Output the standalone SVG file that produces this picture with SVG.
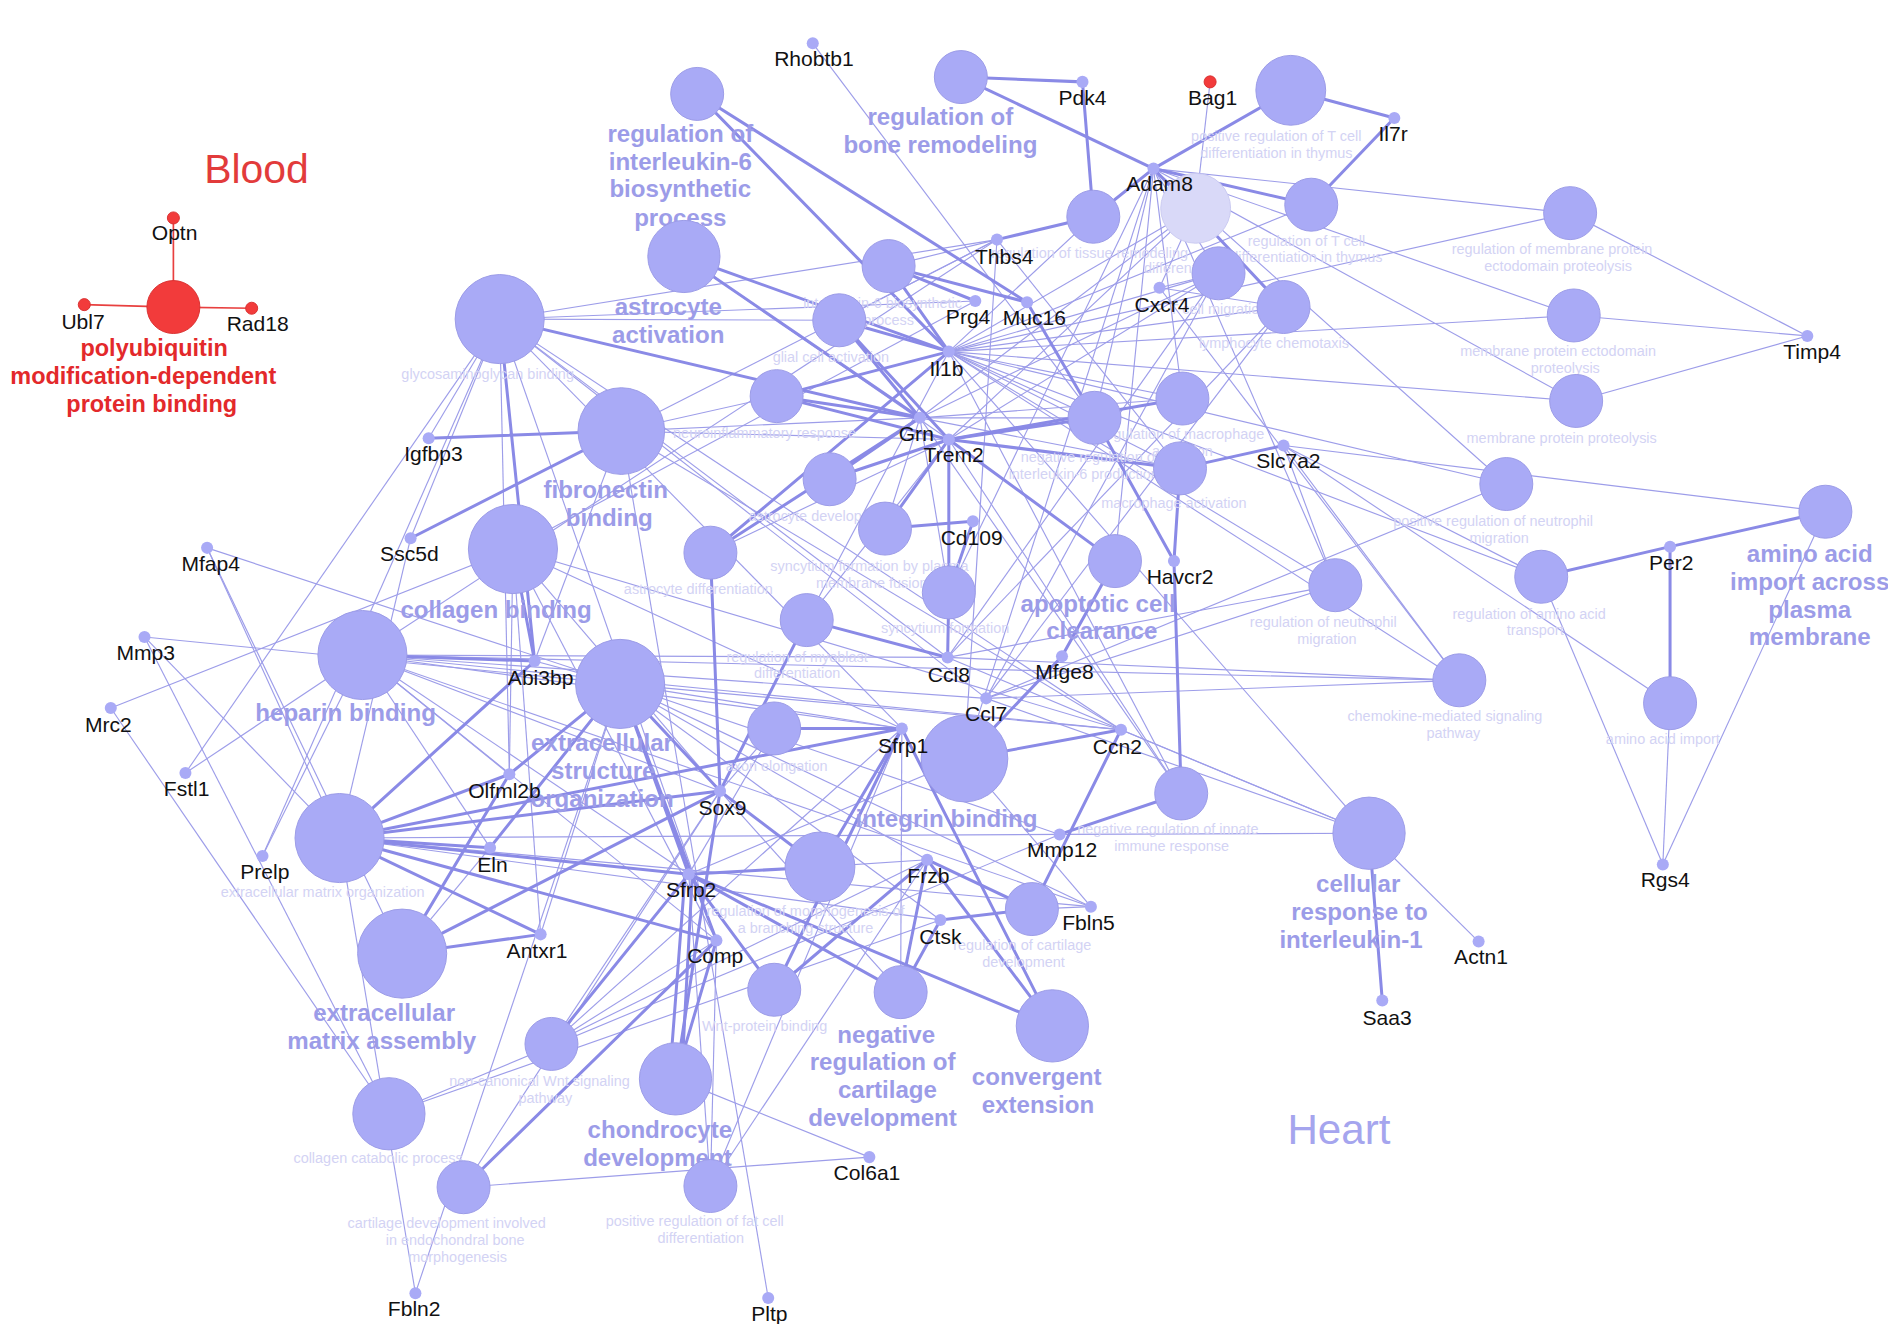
<svg xmlns="http://www.w3.org/2000/svg" width="1888" height="1324" viewBox="0 0 1888 1324">
<style>
.k{stroke:#8a8ae6;stroke-width:2.5;fill:none;stroke-linecap:round}
.t{stroke:#9d9de9;stroke-width:0.95;fill:none}
.r{stroke:#e8403f;stroke-width:1.4}
.tn{fill:#a9aaf6;stroke:#9a9ae6;stroke-width:0.8}
.fd{fill:#d9d9f8;stroke:#cacaf0;stroke-width:0.8}
.gn{fill:#a9aaf6}
.rn{fill:#f23b3b;stroke:#d83030;stroke-width:0.8}
text{font-family:"Liberation Sans",Arial,Helvetica,sans-serif;text-anchor:middle}
.gl{font-size:17.5px;fill:#111}
.bl{font-size:20px;font-weight:bold;fill:#9c9ce8}
.fl{font-size:12px;fill:#d3d3f4}
.rl{font-size:19.5px;font-weight:bold;fill:#e3292b}
</style>
<rect width="1888" height="1324" fill="#ffffff"/>
<g transform="scale(1.204082)">
<text x="213" y="152" style="font-size:34px;fill:#e23b3b">Blood</text>
<text x="1112" y="950" style="font-size:35px;fill:#a5a5ee">Heart</text>
<g id="connectors">
<line class="r" x1="144" y1="181" x2="144" y2="255"/>
<line class="r" x1="70" y1="253" x2="144" y2="255"/>
<line class="r" x1="209" y1="256" x2="144" y2="255"/>
<line class="t" x1="1005" y1="68" x2="993" y2="173"/>
<line class="t" x1="675" y1="36" x2="909" y2="347"/>
<line class="t" x1="788" y1="292" x2="908" y2="180"/>
<line class="t" x1="788" y1="292" x2="993" y2="173"/>
<line class="t" x1="788" y1="292" x2="1012" y2="227"/>
<line class="t" x1="788" y1="292" x2="1066" y2="255"/>
<line class="t" x1="788" y1="292" x2="1304" y2="177"/>
<line class="t" x1="788" y1="292" x2="1307" y2="262"/>
<line class="t" x1="788" y1="292" x2="1309" y2="333"/>
<line class="t" x1="788" y1="292" x2="1251" y2="402"/>
<line class="t" x1="788" y1="292" x2="1109" y2="486"/>
<line class="t" x1="788" y1="292" x2="1280" y2="479"/>
<line class="t" x1="788" y1="292" x2="1212" y2="565"/>
<line class="t" x1="788" y1="292" x2="1137" y2="692"/>
<line class="t" x1="788" y1="292" x2="982" y2="331"/>
<line class="t" x1="788" y1="292" x2="909" y2="347"/>
<line class="t" x1="788" y1="292" x2="980" y2="389"/>
<line class="t" x1="788" y1="292" x2="981" y2="659"/>
<line class="t" x1="788" y1="292" x2="1089" y2="170"/>
<line class="t" x1="788" y1="292" x2="670" y2="515"/>
<line class="t" x1="958" y1="140" x2="993" y2="173"/>
<line class="t" x1="958" y1="140" x2="1012" y2="227"/>
<line class="t" x1="958" y1="140" x2="1304" y2="177"/>
<line class="t" x1="958" y1="140" x2="1307" y2="262"/>
<line class="t" x1="958" y1="140" x2="1309" y2="333"/>
<line class="t" x1="958" y1="140" x2="1251" y2="402"/>
<line class="t" x1="958" y1="140" x2="1109" y2="486"/>
<line class="t" x1="958" y1="140" x2="982" y2="331"/>
<line class="t" x1="958" y1="140" x2="909" y2="347"/>
<line class="t" x1="958" y1="140" x2="801" y2="630"/>
<line class="t" x1="958" y1="140" x2="788" y2="492"/>
<line class="t" x1="958" y1="140" x2="926" y2="466"/>
<line class="t" x1="764" y1="347" x2="982" y2="331"/>
<line class="t" x1="764" y1="347" x2="1012" y2="227"/>
<line class="t" x1="764" y1="347" x2="993" y2="173"/>
<line class="t" x1="764" y1="347" x2="788" y2="492"/>
<line class="t" x1="764" y1="347" x2="735" y2="439"/>
<line class="t" x1="764" y1="347" x2="980" y2="389"/>
<line class="t" x1="764" y1="347" x2="516" y2="358"/>
<line class="t" x1="764" y1="347" x2="909" y2="347"/>
<line class="t" x1="764" y1="347" x2="981" y2="659"/>
<line class="t" x1="788" y1="365" x2="1012" y2="227"/>
<line class="t" x1="788" y1="365" x2="993" y2="173"/>
<line class="t" x1="788" y1="365" x2="568" y2="213"/>
<line class="t" x1="788" y1="365" x2="590" y2="459"/>
<line class="t" x1="788" y1="365" x2="516" y2="358"/>
<line class="t" x1="788" y1="365" x2="670" y2="515"/>
<line class="t" x1="788" y1="365" x2="981" y2="659"/>
<line class="t" x1="963" y1="239" x2="993" y2="173"/>
<line class="t" x1="963" y1="239" x2="1012" y2="227"/>
<line class="t" x1="963" y1="239" x2="1066" y2="255"/>
<line class="t" x1="963" y1="239" x2="1212" y2="565"/>
<line class="t" x1="819" y1="580" x2="1012" y2="227"/>
<line class="t" x1="819" y1="580" x2="1066" y2="255"/>
<line class="t" x1="819" y1="580" x2="1212" y2="565"/>
<line class="t" x1="819" y1="580" x2="1251" y2="402"/>
<line class="t" x1="819" y1="580" x2="1109" y2="486"/>
<line class="t" x1="819" y1="580" x2="1137" y2="692"/>
<line class="t" x1="819" y1="580" x2="301" y2="544"/>
<line class="t" x1="787" y1="546" x2="1012" y2="227"/>
<line class="t" x1="787" y1="546" x2="1066" y2="255"/>
<line class="t" x1="787" y1="546" x2="1212" y2="565"/>
<line class="t" x1="787" y1="546" x2="1137" y2="692"/>
<line class="t" x1="787" y1="546" x2="301" y2="544"/>
<line class="t" x1="787" y1="546" x2="1109" y2="486"/>
<line class="t" x1="828" y1="199" x2="738" y2="221"/>
<line class="t" x1="828" y1="199" x2="697" y2="266"/>
<line class="t" x1="828" y1="199" x2="801" y2="630"/>
<line class="t" x1="828" y1="199" x2="980" y2="389"/>
<line class="t" x1="828" y1="199" x2="301" y2="544"/>
<line class="t" x1="828" y1="199" x2="415" y2="265"/>
<line class="t" x1="828" y1="199" x2="516" y2="358"/>
<line class="t" x1="810" y1="250" x2="415" y2="265"/>
<line class="t" x1="810" y1="250" x2="426" y2="456"/>
<line class="t" x1="1066" y1="370" x2="1109" y2="486"/>
<line class="t" x1="1066" y1="370" x2="1280" y2="479"/>
<line class="t" x1="1066" y1="370" x2="1387" y2="584"/>
<line class="t" x1="1066" y1="370" x2="1516" y2="425"/>
<line class="t" x1="1066" y1="370" x2="1212" y2="565"/>
<line class="t" x1="1501" y1="279" x2="1304" y2="177"/>
<line class="t" x1="1501" y1="279" x2="1307" y2="262"/>
<line class="t" x1="1501" y1="279" x2="1309" y2="333"/>
<line class="t" x1="1381" y1="718" x2="1280" y2="479"/>
<line class="t" x1="1381" y1="718" x2="1387" y2="584"/>
<line class="t" x1="1381" y1="718" x2="1516" y2="425"/>
<line class="t" x1="1228" y1="782" x2="1137" y2="692"/>
<line class="t" x1="880" y1="693" x2="1137" y2="692"/>
<line class="t" x1="880" y1="693" x2="323" y2="925"/>
<line class="t" x1="880" y1="693" x2="282" y2="696"/>
<line class="t" x1="931" y1="606" x2="301" y2="544"/>
<line class="t" x1="931" y1="606" x2="515" y2="568"/>
<line class="t" x1="931" y1="606" x2="1137" y2="692"/>
<line class="t" x1="931" y1="606" x2="426" y2="456"/>
<line class="t" x1="931" y1="606" x2="516" y2="358"/>
<line class="t" x1="906" y1="753" x2="801" y2="630"/>
<line class="t" x1="906" y1="753" x2="857" y2="755"/>
<line class="t" x1="906" y1="753" x2="515" y2="568"/>
<line class="t" x1="906" y1="753" x2="282" y2="696"/>
<line class="t" x1="906" y1="753" x2="301" y2="544"/>
<line class="t" x1="781" y1="764" x2="282" y2="696"/>
<line class="t" x1="781" y1="764" x2="323" y2="925"/>
<line class="t" x1="770" y1="714" x2="458" y2="867"/>
<line class="t" x1="770" y1="714" x2="590" y2="985"/>
<line class="t" x1="770" y1="714" x2="681" y2="720"/>
<line class="t" x1="770" y1="714" x2="515" y2="568"/>
<line class="t" x1="749" y1="605" x2="301" y2="544"/>
<line class="t" x1="749" y1="605" x2="458" y2="867"/>
<line class="t" x1="749" y1="605" x2="590" y2="985"/>
<line class="t" x1="749" y1="605" x2="748" y2="824"/>
<line class="t" x1="749" y1="605" x2="515" y2="568"/>
<line class="t" x1="598" y1="657" x2="643" y2="605"/>
<line class="t" x1="598" y1="657" x2="385" y2="986"/>
<line class="t" x1="598" y1="657" x2="748" y2="824"/>
<line class="t" x1="598" y1="657" x2="301" y2="544"/>
<line class="t" x1="598" y1="657" x2="458" y2="867"/>
<line class="t" x1="572" y1="726" x2="590" y2="985"/>
<line class="t" x1="572" y1="726" x2="643" y2="605"/>
<line class="t" x1="572" y1="726" x2="301" y2="544"/>
<line class="t" x1="595" y1="781" x2="590" y2="985"/>
<line class="t" x1="595" y1="781" x2="426" y2="456"/>
<line class="t" x1="595" y1="781" x2="301" y2="544"/>
<line class="t" x1="595" y1="781" x2="458" y2="867"/>
<line class="t" x1="449" y1="776" x2="515" y2="568"/>
<line class="t" x1="449" y1="776" x2="426" y2="456"/>
<line class="t" x1="407" y1="704" x2="301" y2="544"/>
<line class="t" x1="407" y1="704" x2="334" y2="792"/>
<line class="t" x1="423" y1="643" x2="301" y2="544"/>
<line class="t" x1="423" y1="643" x2="426" y2="456"/>
<line class="t" x1="444" y1="549" x2="515" y2="568"/>
<line class="t" x1="444" y1="549" x2="516" y2="358"/>
<line class="t" x1="356" y1="364" x2="415" y2="265"/>
<line class="t" x1="341" y1="447" x2="415" y2="265"/>
<line class="t" x1="341" y1="447" x2="282" y2="696"/>
<line class="t" x1="172" y1="455" x2="515" y2="568"/>
<line class="t" x1="172" y1="455" x2="282" y2="696"/>
<line class="t" x1="172" y1="455" x2="334" y2="792"/>
<line class="t" x1="120" y1="529" x2="515" y2="568"/>
<line class="t" x1="120" y1="529" x2="282" y2="696"/>
<line class="t" x1="120" y1="529" x2="323" y2="925"/>
<line class="t" x1="92" y1="588" x2="426" y2="456"/>
<line class="t" x1="92" y1="588" x2="323" y2="925"/>
<line class="t" x1="154" y1="642" x2="415" y2="265"/>
<line class="t" x1="154" y1="642" x2="301" y2="544"/>
<line class="t" x1="218" y1="711" x2="415" y2="265"/>
<line class="t" x1="218" y1="711" x2="301" y2="544"/>
<line class="t" x1="345" y1="1074" x2="282" y2="696"/>
<line class="t" x1="345" y1="1074" x2="515" y2="568"/>
<line class="t" x1="722" y1="961" x2="561" y2="896"/>
<line class="t" x1="722" y1="961" x2="385" y2="986"/>
<line class="t" x1="638" y1="1078" x2="516" y2="358"/>
<line class="t" x1="415" y1="265" x2="819" y2="580"/>
<line class="t" x1="415" y1="265" x2="787" y2="546"/>
<line class="t" x1="415" y1="265" x2="931" y2="606"/>
<line class="t" x1="415" y1="265" x2="749" y2="605"/>
<line class="t" x1="415" y1="265" x2="595" y2="781"/>
<line class="t" x1="415" y1="265" x2="423" y2="643"/>
<line class="t" x1="415" y1="265" x2="697" y2="266"/>
<line class="t" x1="516" y1="358" x2="645" y2="329"/>
<line class="t" x1="301" y1="544" x2="1212" y2="565"/>
<line class="t" x1="515" y1="568" x2="880" y2="693"/>
<line class="t" x1="515" y1="568" x2="781" y2="764"/>
<line class="t" x1="426" y1="456" x2="749" y2="605"/>
<line class="t" x1="426" y1="456" x2="598" y2="657"/>
<line class="t" x1="801" y1="630" x2="572" y2="726"/>
<line class="k" x1="579" y1="78" x2="788" y2="292"/>
<line class="k" x1="579" y1="78" x2="853" y2="251"/>
<line class="k" x1="798" y1="64" x2="899" y2="68"/>
<line class="k" x1="798" y1="64" x2="958" y2="140"/>
<line class="k" x1="899" y1="68" x2="908" y2="180"/>
<line class="k" x1="908" y1="180" x2="958" y2="140"/>
<line class="k" x1="1072" y1="75" x2="958" y2="140"/>
<line class="k" x1="1072" y1="75" x2="1158" y2="98"/>
<line class="k" x1="1089" y1="170" x2="1158" y2="98"/>
<line class="k" x1="1089" y1="170" x2="958" y2="140"/>
<line class="k" x1="1066" y1="255" x2="958" y2="140"/>
<line class="k" x1="908" y1="180" x2="828" y2="199"/>
<line class="k" x1="738" y1="221" x2="853" y2="251"/>
<line class="k" x1="738" y1="221" x2="810" y2="250"/>
<line class="k" x1="738" y1="221" x2="788" y2="292"/>
<line class="k" x1="697" y1="266" x2="788" y2="292"/>
<line class="k" x1="697" y1="266" x2="764" y2="347"/>
<line class="k" x1="697" y1="266" x2="788" y2="365"/>
<line class="k" x1="645" y1="329" x2="788" y2="292"/>
<line class="k" x1="645" y1="329" x2="764" y2="347"/>
<line class="k" x1="645" y1="329" x2="788" y2="365"/>
<line class="k" x1="568" y1="213" x2="788" y2="292"/>
<line class="k" x1="568" y1="213" x2="764" y2="347"/>
<line class="k" x1="415" y1="265" x2="764" y2="347"/>
<line class="k" x1="415" y1="265" x2="444" y2="549"/>
<line class="k" x1="356" y1="364" x2="516" y2="358"/>
<line class="k" x1="341" y1="447" x2="516" y2="358"/>
<line class="k" x1="689" y1="398" x2="764" y2="347"/>
<line class="k" x1="689" y1="398" x2="788" y2="365"/>
<line class="k" x1="590" y1="459" x2="788" y2="292"/>
<line class="k" x1="590" y1="459" x2="764" y2="347"/>
<line class="k" x1="590" y1="459" x2="598" y2="657"/>
<line class="k" x1="735" y1="439" x2="788" y2="365"/>
<line class="k" x1="735" y1="439" x2="808" y2="433"/>
<line class="k" x1="788" y1="492" x2="788" y2="365"/>
<line class="k" x1="788" y1="492" x2="808" y2="433"/>
<line class="k" x1="788" y1="492" x2="787" y2="546"/>
<line class="k" x1="670" y1="515" x2="787" y2="546"/>
<line class="k" x1="670" y1="515" x2="598" y2="657"/>
<line class="k" x1="926" y1="466" x2="788" y2="365"/>
<line class="k" x1="926" y1="466" x2="882" y2="545"/>
<line class="k" x1="801" y1="630" x2="882" y2="545"/>
<line class="k" x1="909" y1="347" x2="975" y2="466"/>
<line class="k" x1="980" y1="389" x2="975" y2="466"/>
<line class="k" x1="981" y1="659" x2="975" y2="466"/>
<line class="k" x1="980" y1="389" x2="1066" y2="370"/>
<line class="k" x1="980" y1="389" x2="788" y2="365"/>
<line class="k" x1="909" y1="347" x2="788" y2="365"/>
<line class="k" x1="982" y1="331" x2="788" y2="365"/>
<line class="k" x1="909" y1="347" x2="853" y2="251"/>
<line class="k" x1="1280" y1="479" x2="1387" y2="454"/>
<line class="k" x1="1516" y1="425" x2="1387" y2="454"/>
<line class="k" x1="1387" y1="584" x2="1387" y2="454"/>
<line class="k" x1="1137" y1="692" x2="1148" y2="831"/>
<line class="k" x1="981" y1="659" x2="880" y2="693"/>
<line class="k" x1="857" y1="755" x2="931" y2="606"/>
<line class="k" x1="801" y1="630" x2="931" y2="606"/>
<line class="k" x1="643" y1="605" x2="749" y2="605"/>
<line class="k" x1="874" y1="852" x2="572" y2="726"/>
<line class="k" x1="874" y1="852" x2="749" y2="605"/>
<line class="k" x1="874" y1="852" x2="770" y2="714"/>
<line class="k" x1="857" y1="755" x2="770" y2="714"/>
<line class="k" x1="857" y1="755" x2="781" y2="764"/>
<line class="k" x1="748" y1="824" x2="781" y2="764"/>
<line class="k" x1="748" y1="824" x2="770" y2="714"/>
<line class="k" x1="748" y1="824" x2="572" y2="726"/>
<line class="k" x1="282" y1="696" x2="444" y2="549"/>
<line class="k" x1="282" y1="696" x2="423" y2="643"/>
<line class="k" x1="282" y1="696" x2="749" y2="605"/>
<line class="k" x1="282" y1="696" x2="598" y2="657"/>
<line class="k" x1="282" y1="696" x2="407" y2="704"/>
<line class="k" x1="282" y1="696" x2="572" y2="726"/>
<line class="k" x1="282" y1="696" x2="595" y2="781"/>
<line class="k" x1="282" y1="696" x2="449" y2="776"/>
<line class="k" x1="334" y1="792" x2="598" y2="657"/>
<line class="k" x1="334" y1="792" x2="449" y2="776"/>
<line class="k" x1="334" y1="792" x2="423" y2="643"/>
<line class="k" x1="458" y1="867" x2="572" y2="726"/>
<line class="k" x1="556" y1="896" x2="569" y2="726"/>
<line class="k" x1="566" y1="896" x2="575" y2="726"/>
<line class="k" x1="561" y1="896" x2="598" y2="657"/>
<line class="k" x1="561" y1="896" x2="595" y2="781"/>
<line class="k" x1="385" y1="986" x2="595" y2="781"/>
<line class="k" x1="643" y1="822" x2="572" y2="726"/>
<line class="k" x1="643" y1="822" x2="749" y2="605"/>
<line class="k" x1="643" y1="822" x2="770" y2="714"/>
<line class="k" x1="681" y1="720" x2="598" y2="657"/>
<line class="k" x1="681" y1="720" x2="749" y2="605"/>
<line class="k" x1="681" y1="720" x2="572" y2="726"/>
<line class="k" x1="515" y1="568" x2="598" y2="657"/>
<line class="k" x1="515" y1="568" x2="572" y2="726"/>
<line class="k" x1="515" y1="568" x2="595" y2="781"/>
<line class="k" x1="515" y1="568" x2="423" y2="643"/>
<line class="k" x1="515" y1="568" x2="407" y2="704"/>
<line class="k" x1="301" y1="544" x2="444" y2="549"/>
<line class="k" x1="426" y1="456" x2="444" y2="549"/>
</g>
<g id="n-polyubiquitin"><text class="rl" x="128" y="296">polyubiquitin</text><text class="rl" x="119" y="319">modification-dependent</text><text class="rl" x="126" y="342">protein binding</text><circle class="rn" cx="144" cy="255" r="22"/></g>
<g id="n-Optn"><text class="gl" x="145" y="199">Optn</text><circle class="rn" cx="144" cy="181" r="5"/></g>
<g id="n-Ubl7"><text class="gl" x="69" y="273">Ubl7</text><circle class="rn" cx="70" cy="253" r="5"/></g>
<g id="n-Rad18"><text class="gl" x="214" y="275">Rad18</text><circle class="rn" cx="209" cy="256" r="5"/></g>
<g id="n-Bag1"><text class="gl" x="1007" y="87">Bag1</text><circle class="rn" cx="1005" cy="68" r="5"/></g>
<g id="n-il6bio"><text class="bl" x="565" y="118">regulation of</text><text class="bl" x="565" y="141">interleukin-6</text><text class="bl" x="565" y="164">biosynthetic</text><text class="bl" x="565" y="188">process</text><circle class="tn" cx="579" cy="78" r="22"/></g>
<g id="n-bone"><text class="bl" x="781" y="104">regulation of</text><text class="bl" x="781" y="127">bone remodeling</text><circle class="tn" cx="798" cy="64" r="22"/></g>
<g id="n-posTcell"><text class="fl" x="1060" y="117">positive regulation of T cell</text><text class="fl" x="1060" y="131">differentiation in thymus</text><circle class="tn" cx="1072" cy="75" r="29"/></g>
<g id="n-Tcelldiff"><text class="fl" x="986" y="227">differentiation</text><circle class="fd" cx="993" cy="173" r="29"/></g>
<g id="n-tissue"><text class="fl" x="905" y="214">regulation of tissue remodeling</text><circle class="tn" cx="908" cy="180" r="22"/></g>
<g id="n-regTcell"><text class="fl" x="1085" y="204">regulation of T cell</text><text class="fl" x="1085" y="218">differentiation in thymus</text><circle class="tn" cx="1089" cy="170" r="22"/></g>
<g id="n-memreg"><text class="fl" x="1289" y="211">regulation of membrane protein</text><text class="fl" x="1294" y="225">ectodomain proteolysis</text><circle class="tn" cx="1304" cy="177" r="22"/></g>
<g id="n-il6bp"><text class="fl" x="733" y="256">interleukin-6 biosynthetic</text><text class="fl" x="738" y="270">process</text><circle class="tn" cx="738" cy="221" r="22"/></g>
<g id="n-astact"><text class="bl" x="555" y="262">astrocyte</text><text class="bl" x="555" y="285">activation</text><circle class="tn" cx="568" cy="213" r="30"/></g>
<g id="n-Tmig"><text class="fl" x="1012" y="261">T cell migration</text><circle class="tn" cx="1012" cy="227" r="22"/></g>
<g id="n-lym"><text class="fl" x="1058" y="289">lymphocyte chemotaxis</text><circle class="tn" cx="1066" cy="255" r="22"/></g>
<g id="n-memecto"><text class="fl" x="1294" y="296">membrane protein ectodomain</text><text class="fl" x="1300" y="310">proteolysis</text><circle class="tn" cx="1307" cy="262" r="22"/></g>
<g id="n-glial"><text class="fl" x="690" y="301">glial cell activation</text><circle class="tn" cx="697" cy="266" r="22"/></g>
<g id="n-gag"><text class="fl" x="405" y="315">glycosaminoglycan binding</text><circle class="tn" cx="415" cy="265" r="37"/></g>
<g id="n-neuro"><text class="fl" x="635" y="364">neuroinflammatory response</text><circle class="tn" cx="645" cy="329" r="22"/></g>
<g id="n-macreg"><text class="fl" x="982" y="365">regulation of macrophage</text><text class="fl" x="982" y="379">activation</text><circle class="tn" cx="982" cy="331" r="22"/></g>
<g id="n-negil6"><text class="fl" x="905" y="384">negative regulation of</text><text class="fl" x="900" y="398">interleukin-6 production</text><circle class="tn" cx="909" cy="347" r="22"/></g>
<g id="n-memprot"><text class="fl" x="1297" y="368">membrane protein proteolysis</text><circle class="tn" cx="1309" cy="333" r="22"/></g>
<g id="n-fibro"><text class="bl" x="503" y="414">fibronectin</text><text class="bl" x="506" y="437">binding</text><circle class="tn" cx="516" cy="358" r="36"/></g>
<g id="n-astdev"><text class="fl" x="682" y="433">astrocyte development</text><circle class="tn" cx="689" cy="398" r="22"/></g>
<g id="n-macact"><text class="fl" x="975" y="422">macrophage activation</text><circle class="tn" cx="980" cy="389" r="22"/></g>
<g id="n-posneut"><text class="fl" x="1240" y="437">positive regulation of neutrophil</text><text class="fl" x="1245" y="451">migration</text><circle class="tn" cx="1251" cy="402" r="22"/></g>
<g id="n-aaPM"><text class="bl" x="1503" y="467">amino acid</text><text class="bl" x="1503" y="490">import across</text><text class="bl" x="1503" y="513">plasma</text><text class="bl" x="1503" y="536">membrane</text><circle class="tn" cx="1516" cy="425" r="22"/></g>
<g id="n-syncPM"><text class="fl" x="722" y="474">syncytium formation by plasma</text><text class="fl" x="724" y="488">membrane fusion</text><circle class="tn" cx="735" cy="439" r="22"/></g>
<g id="n-coll"><text class="bl" x="412" y="513">collagen binding</text><circle class="tn" cx="426" cy="456" r="37"/></g>
<g id="n-astdiff"><text class="fl" x="580" y="493">astrocyte differentiation</text><circle class="tn" cx="590" cy="459" r="22"/></g>
<g id="n-apop"><text class="bl" x="912" y="508">apoptotic cell</text><text class="bl" x="915" y="531">clearance</text><circle class="tn" cx="926" cy="466" r="22"/></g>
<g id="n-sync"><text class="fl" x="785" y="526">syncytium formation</text><circle class="tn" cx="788" cy="492" r="22"/></g>
<g id="n-regneut"><text class="fl" x="1099" y="521">regulation of neutrophil</text><text class="fl" x="1102" y="535">migration</text><circle class="tn" cx="1109" cy="486" r="22"/></g>
<g id="n-regaa"><text class="fl" x="1270" y="514">regulation of amino acid</text><text class="fl" x="1275" y="527">transport</text><circle class="tn" cx="1280" cy="479" r="22"/></g>
<g id="n-myo"><text class="fl" x="662" y="550">regulation of myoblast</text><text class="fl" x="662" y="563">differentiation</text><circle class="tn" cx="670" cy="515" r="22"/></g>
<g id="n-hep"><text class="bl" x="287" y="599">heparin binding</text><circle class="tn" cx="301" cy="544" r="37"/></g>
<g id="n-ecms"><text class="bl" x="500" y="624">extracellular</text><text class="bl" x="501" y="647">structure</text><text class="bl" x="500" y="670">organization</text><circle class="tn" cx="515" cy="568" r="37"/></g>
<g id="n-chemo"><text class="fl" x="1200" y="599">chemokine-mediated signaling</text><text class="fl" x="1207" y="613">pathway</text><circle class="tn" cx="1212" cy="565" r="22"/></g>
<g id="n-aaimp"><text class="fl" x="1381" y="618">amino acid import</text><circle class="tn" cx="1387" cy="584" r="22"/></g>
<g id="n-axon"><text class="fl" x="645" y="640">axon elongation</text><circle class="tn" cx="643" cy="605" r="22"/></g>
<g id="n-integ"><text class="bl" x="786" y="687">integrin binding</text><circle class="tn" cx="801" cy="630" r="36"/></g>
<g id="n-neginn"><text class="fl" x="970" y="693">negative regulation of innate</text><text class="fl" x="973" y="707">immune response</text><circle class="tn" cx="981" cy="659" r="22"/></g>
<g id="n-il1"><text class="bl" x="1128" y="741">cellular</text><text class="bl" x="1129" y="764">response to</text><text class="bl" x="1122" y="787">interleukin-1</text><circle class="tn" cx="1137" cy="692" r="30"/></g>
<g id="n-ecmorg"><text class="fl" x="268" y="745">extracellular matrix organization</text><circle class="tn" cx="282" cy="696" r="37"/></g>
<g id="n-morph"><text class="fl" x="669" y="761">regulation of morphogenesis of</text><text class="fl" x="669" y="775">a branching structure</text><circle class="tn" cx="681" cy="720" r="29"/></g>
<g id="n-regcart"><text class="fl" x="849" y="789">regulation of cartilage</text><text class="fl" x="850" y="803">development</text><circle class="tn" cx="857" cy="755" r="22"/></g>
<g id="n-ecmasm"><text class="bl" x="319" y="848">extracellular</text><text class="bl" x="317" y="871">matrix assembly</text><circle class="tn" cx="334" cy="792" r="37"/></g>
<g id="n-negcart"><text class="bl" x="736" y="866">negative</text><text class="bl" x="733" y="889">regulation of</text><text class="bl" x="737" y="912">cartilage</text><text class="bl" x="733" y="935">development</text><circle class="tn" cx="748" cy="824" r="22"/></g>
<g id="n-wnt"><text class="fl" x="635" y="856">Wnt-protein binding</text><circle class="tn" cx="643" cy="822" r="22"/></g>
<g id="n-conv"><text class="bl" x="861" y="901">convergent</text><text class="bl" x="862" y="924">extension</text><circle class="tn" cx="874" cy="852" r="30"/></g>
<g id="n-noncan"><text class="fl" x="448" y="902">non-canonical Wnt signaling</text><text class="fl" x="453" y="916">pathway</text><circle class="tn" cx="458" cy="867" r="22"/></g>
<g id="n-chondro"><text class="bl" x="548" y="945">chondrocyte</text><text class="bl" x="546" y="968">development</text><circle class="tn" cx="561" cy="896" r="30"/></g>
<g id="n-colcat"><text class="fl" x="314" y="966">collagen catabolic process</text><circle class="tn" cx="323" cy="925" r="30"/></g>
<g id="n-cartendo"><text class="fl" x="371" y="1020">cartilage development involved</text><text class="fl" x="378" y="1034">in endochondral bone</text><text class="fl" x="380" y="1048">morphogenesis</text><circle class="tn" cx="385" cy="986" r="22"/></g>
<g id="n-fat"><text class="fl" x="577" y="1018">positive regulation of fat cell</text><text class="fl" x="582" y="1032">differentiation</text><circle class="tn" cx="590" cy="985" r="22"/></g>
<g id="n-Rhobtb1"><text class="gl" x="676" y="55">Rhobtb1</text><circle class="gn" cx="675" cy="36" r="5"/></g>
<g id="n-Pdk4"><text class="gl" x="899" y="87">Pdk4</text><circle class="gn" cx="899" cy="68" r="5"/></g>
<g id="n-Il7r"><text class="gl" x="1157" y="117">Il7r</text><circle class="gn" cx="1158" cy="98" r="5"/></g>
<g id="n-Adam8"><text class="gl" x="963" y="159">Adam8</text><circle class="gn" cx="958" cy="140" r="5"/></g>
<g id="n-Thbs4"><text class="gl" x="834" y="219">Thbs4</text><circle class="gn" cx="828" cy="199" r="5"/></g>
<g id="n-Prg4"><text class="gl" x="804" y="269">Prg4</text><circle class="gn" cx="810" cy="250" r="5"/></g>
<g id="n-Muc16"><text class="gl" x="859" y="270">Muc16</text><circle class="gn" cx="853" cy="251" r="5"/></g>
<g id="n-Cxcr4"><text class="gl" x="965" y="259">Cxcr4</text><circle class="gn" cx="963" cy="239" r="5"/></g>
<g id="n-Il1b"><text class="gl" x="786" y="312">Il1b</text><circle class="gn" cx="788" cy="292" r="5"/></g>
<g id="n-Timp4"><text class="gl" x="1505" y="298">Timp4</text><circle class="gn" cx="1501" cy="279" r="5"/></g>
<g id="n-Grn"><text class="gl" x="761" y="366">Grn</text><circle class="gn" cx="764" cy="347" r="5"/></g>
<g id="n-Trem2"><text class="gl" x="792" y="384">Trem2</text><circle class="gn" cx="788" cy="365" r="5"/></g>
<g id="n-Igfbp3"><text class="gl" x="360" y="383">Igfbp3</text><circle class="gn" cx="356" cy="364" r="5"/></g>
<g id="n-Ssc5d"><text class="gl" x="340" y="466">Ssc5d</text><circle class="gn" cx="341" cy="447" r="5"/></g>
<g id="n-Mfap4"><text class="gl" x="175" y="474">Mfap4</text><circle class="gn" cx="172" cy="455" r="5"/></g>
<g id="n-Mmp3"><text class="gl" x="121" y="548">Mmp3</text><circle class="gn" cx="120" cy="529" r="5"/></g>
<g id="n-Mrc2"><text class="gl" x="90" y="608">Mrc2</text><circle class="gn" cx="92" cy="588" r="5"/></g>
<g id="n-Fstl1"><text class="gl" x="155" y="661">Fstl1</text><circle class="gn" cx="154" cy="642" r="5"/></g>
<g id="n-Prelp"><text class="gl" x="220" y="730">Prelp</text><circle class="gn" cx="218" cy="711" r="5"/></g>
<g id="n-Abi3bp"><text class="gl" x="449" y="569">Abi3bp</text><circle class="gn" cx="444" cy="549" r="5"/></g>
<g id="n-Olfml2b"><text class="gl" x="419" y="663">Olfml2b</text><circle class="gn" cx="423" cy="643" r="5"/></g>
<g id="n-Eln"><text class="gl" x="409" y="724">Eln</text><circle class="gn" cx="407" cy="704" r="5"/></g>
<g id="n-Sox9"><text class="gl" x="600" y="677">Sox9</text><circle class="gn" cx="598" cy="657" r="5"/></g>
<g id="n-Sfrp1"><text class="gl" x="750" y="625">Sfrp1</text><circle class="gn" cx="749" cy="605" r="5"/></g>
<g id="n-Frzb"><text class="gl" x="771" y="733">Frzb</text><circle class="gn" cx="770" cy="714" r="5"/></g>
<g id="n-Sfrp2"><text class="gl" x="574" y="745">Sfrp2</text><circle class="gn" cx="572" cy="726" r="5"/></g>
<g id="n-Comp"><text class="gl" x="594" y="800">Comp</text><circle class="gn" cx="595" cy="781" r="5"/></g>
<g id="n-Antxr1"><text class="gl" x="446" y="796">Antxr1</text><circle class="gn" cx="449" cy="776" r="5"/></g>
<g id="n-Ctsk"><text class="gl" x="781" y="784">Ctsk</text><circle class="gn" cx="781" cy="764" r="5"/></g>
<g id="n-Col6a1"><text class="gl" x="720" y="980">Col6a1</text><circle class="gn" cx="722" cy="961" r="5"/></g>
<g id="n-Pltp"><text class="gl" x="639" y="1097">Pltp</text><circle class="gn" cx="638" cy="1078" r="5"/></g>
<g id="n-Fbln2"><text class="gl" x="344" y="1093">Fbln2</text><circle class="gn" cx="345" cy="1074" r="5"/></g>
<g id="n-Fbln5"><text class="gl" x="904" y="772">Fbln5</text><circle class="gn" cx="906" cy="753" r="5"/></g>
<g id="n-Saa3"><text class="gl" x="1152" y="851">Saa3</text><circle class="gn" cx="1148" cy="831" r="5"/></g>
<g id="n-Actn1"><text class="gl" x="1230" y="801">Actn1</text><circle class="gn" cx="1228" cy="782" r="5"/></g>
<g id="n-Rgs4"><text class="gl" x="1383" y="737">Rgs4</text><circle class="gn" cx="1381" cy="718" r="5"/></g>
<g id="n-Per2"><text class="gl" x="1388" y="473">Per2</text><circle class="gn" cx="1387" cy="454" r="5"/></g>
<g id="n-Slc7a2"><text class="gl" x="1070" y="389">Slc7a2</text><circle class="gn" cx="1066" cy="370" r="5"/></g>
<g id="n-Cd109"><text class="gl" x="807" y="453">Cd109</text><circle class="gn" cx="808" cy="433" r="5"/></g>
<g id="n-Havcr2"><text class="gl" x="980" y="485">Havcr2</text><circle class="gn" cx="975" cy="466" r="5"/></g>
<g id="n-Mfge8"><text class="gl" x="884" y="564">Mfge8</text><circle class="gn" cx="882" cy="545" r="5"/></g>
<g id="n-Ccl8"><text class="gl" x="788" y="566">Ccl8</text><circle class="gn" cx="787" cy="546" r="5"/></g>
<g id="n-Ccl7"><text class="gl" x="819" y="599">Ccl7</text><circle class="gn" cx="819" cy="580" r="5"/></g>
<g id="n-Ccn2"><text class="gl" x="928" y="626">Ccn2</text><circle class="gn" cx="931" cy="606" r="5"/></g>
<g id="n-Mmp12"><text class="gl" x="882" y="712">Mmp12</text><circle class="gn" cx="880" cy="693" r="5"/></g>
</g>
</svg>
